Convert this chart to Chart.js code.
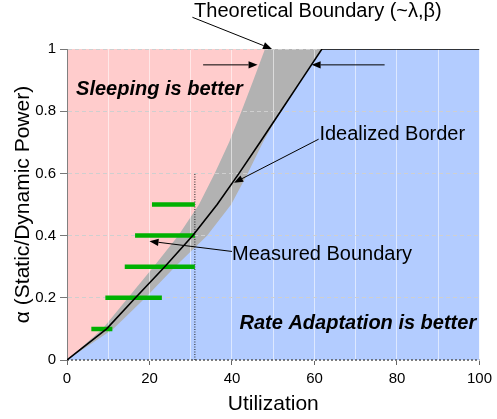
<!DOCTYPE html>
<html>
<head>
<meta charset="utf-8">
<script src="https://cdn.jsdelivr.net/npm/chart.js@4"></script>
<style>
  html, body { margin: 0; padding: 0; background: #fff; }
  #wrap { width: 497px; height: 419px; }
</style>
</head>
<body>
<div id="wrap"><canvas id="c" width="497" height="419"></canvas></div>
<script>
// alpha = static / dynamic power ratio, utilization in %
const alphaLevels  = [0, 0.1, 0.2, 0.3, 0.4, 0.5, 0.6, 0.7, 0.8, 0.9, 1.0];
const idealBorderU = [0, 9.6, 16.6, 23.7, 30.5, 36.4, 41.7, 46.8, 51.8, 56.8, 61.8];
const bandLeftU    = [0, 8.6, 14.8, 21.0, 27.0, 32.0, 35.8, 39.3, 42.3, 45.2, 48.0];
const bandRightU   = [0, 11.2, 19.0, 26.2, 34.0, 39.8, 43.8, 47.5, 51.8, 56.8, 61.8];
const utilMax      = 100;

// measured crossover ranges
const measuredAlpha = [0.1, 0.2, 0.3, 0.4, 0.5];
const measuredFromU = [5.9, 9.3, 14.0, 16.5, 20.6];
const measuredToU   = [11.0, 23.0, 31.0, 31.0, 31.0];

// operating-point marker
const cutoffU     = 31;
const cutoffAlpha = 0.6;

const xTickValues = [0, 20, 40, 60, 80, 100];
const xTickLabels = ['0', '20', '40', '60', '80', '100'];
const yTickValues = [0, 0.2, 0.4, 0.6, 0.8, 1];
const yTickLabels = ['0', '0.2', '0.4', '0.6', '0.8', '1'];

const FONT = "'Liberation Sans', Arial, Helvetica, sans-serif";

const toPts = (us, as) => us.map((u, i) => ({ x: u, y: as[i] }));
const findTick = (vals, v) => vals.findIndex(t => Math.abs(t - v) < 1e-6);

const datasets = [
  {
    label: 'Idealized Border',
    data: [...toPts(idealBorderU, alphaLevels), { x: utilMax, y: 1 }],
    borderColor: '#000', borderWidth: 1.6, pointRadius: 0, fill: false,
    tension: 0, order: 1
  },
  ...measuredAlpha.map((a, i) => ({
    label: 'Measured ' + a,
    data: [{ x: measuredFromU[i], y: a }, { x: measuredToU[i], y: a }],
    borderColor: '#00B000', borderWidth: 4.5, borderCapStyle: 'butt',
    pointRadius: 0, fill: false, order: 2
  })),
  {
    label: 'Cutoff',
    data: [{ x: cutoffU, y: 0 }, { x: cutoffU, y: cutoffAlpha }],
    borderColor: '#222', borderWidth: 1, borderDash: [1, 1.5],
    pointRadius: 0, fill: false, order: 2
  },
  {
    label: 'Axis',
    data: [{ x: 0, y: 0 }, { x: utilMax, y: 0 }],
    borderColor: '#555', borderWidth: 1.5, borderDash: [2, 2],
    pointRadius: 0, fill: false, order: 2, clip: 4
  },
  {
    label: 'Sleeping region',
    data: toPts(bandLeftU, alphaLevels),
    backgroundColor: '#FFCCCC', borderWidth: 0, pointRadius: 0,
    fill: 'end', tension: 0, order: 3
  },
  {
    label: 'Boundary band',
    data: toPts(bandRightU, alphaLevels),
    backgroundColor: '#B2B2B2', borderWidth: 0, pointRadius: 0,
    fill: 'end', tension: 0, order: 4
  },
  {
    label: 'Rate adaptation region',
    data: [{ x: 0, y: 1 }, { x: utilMax, y: 1 }],
    backgroundColor: '#B3CCFF', borderWidth: 0, pointRadius: 0,
    fill: 'start', order: 5
  }
];

// call-out texts and their pointer arrows, in data units
const callouts = {
  labels: [
    { text: 'Theoretical Boundary (~\u03bb,\u03b2)', x: 30.8, y: 1.121, font: '20px ' + FONT, align: 'left' },
    { text: 'Sleeping is better', x: 2.2, y: 0.871, font: 'italic bold 20px ' + FONT, align: 'left' },
    { text: 'Rate Adaptation is better', x: 99.2, y: 0.116, font: 'italic bold 20px ' + FONT, align: 'right' },
    { text: 'Idealized Border', x: 61.2, y: 0.726, font: '20px ' + FONT, align: 'left' },
    { text: 'Measured Boundary', x: 40.0, y: 0.339, font: '20px ' + FONT, align: 'left' }
  ],
  arrows: [
    { from: [30.4, 1.102], to: [49.7, 1.0] },
    { from: [33.0, 0.949], to: [46.2, 0.949] },
    { from: [77.0, 0.949], to: [59.3, 0.949] },
    { from: [61.0, 0.71], to: [40.5, 0.57] },
    { from: [40.0, 0.349], to: [20.0, 0.382] }
  ]
};

const calloutPlugin = {
  id: 'callouts',
  afterDatasetsDraw(chart) {
    const { ctx, scales: { x, y } } = chart;
    ctx.save();
    ctx.fillStyle = '#000';
    ctx.strokeStyle = '#000';
    ctx.lineWidth = 1;
    callouts.arrows.forEach(a => {
      const x1 = x.getPixelForValue(a.from[0]), y1 = y.getPixelForValue(a.from[1]);
      const x2 = x.getPixelForValue(a.to[0]),   y2 = y.getPixelForValue(a.to[1]);
      const ang = Math.atan2(y2 - y1, x2 - x1);
      const len = 9, half = 3.6;
      const bx = x2 - len * Math.cos(ang), by = y2 - len * Math.sin(ang);
      ctx.beginPath();
      ctx.moveTo(x1, y1);
      ctx.lineTo(bx, by);
      ctx.stroke();
      ctx.beginPath();
      ctx.moveTo(x2, y2);
      ctx.lineTo(bx + half * Math.sin(ang), by - half * Math.cos(ang));
      ctx.lineTo(bx - half * Math.sin(ang), by + half * Math.cos(ang));
      ctx.closePath();
      ctx.fill();
    });
    ctx.textBaseline = 'middle';
    callouts.labels.forEach(l => {
      ctx.font = l.font;
      ctx.textAlign = l.align;
      ctx.fillText(l.text, x.getPixelForValue(l.x), y.getPixelForValue(l.y));
    });
    ctx.restore();
  }
};

new Chart(document.getElementById('c'), {
  type: 'line',
  data: { datasets },
  plugins: [calloutPlugin],
  options: {
    responsive: false,
    animation: false,
    layout: { padding: { top: 49, right: 15, left: 0, bottom: 0 } },
    plugins: {
      legend: { display: false },
      tooltip: { enabled: false },
      filler: { drawTime: 'beforeDraw' }
    },
    scales: {
      x: {
        type: 'linear', min: 0, max: utilMax,
        afterFit: s => { s.height = 59; },
        afterBuildTicks: s => { s.ticks = [0,10,20,30,40,50,60,70,80,90,100].map(v => ({ value: v })); },
        ticks: {
          autoSkip: false, maxRotation: 0, padding: 5, color: '#000',
          font: { family: FONT, size: 15 },
          callback: v => { const i = findTick(xTickValues, v); return i >= 0 ? xTickLabels[i] : ''; }
        },
        grid: {
          color: c => (c.tick && c.tick.value > 0 && c.tick.value < utilMax) ? 'rgba(255,255,255,0.55)' : 'rgba(0,0,0,0)',
          tickColor: c => (c.tick && findTick(xTickValues, c.tick.value) >= 0) ? '#666' : 'rgba(0,0,0,0)',
          tickLength: 5
        },
        border: { display: true, color: 'rgba(0,0,0,0)' },
        title: {
          display: true, text: 'Utilization', color: '#000',
          font: { family: FONT, size: 21 }, padding: { top: 0, bottom: 2 }
        }
      },
      y: {
        min: 0, max: 1,
        afterFit: s => { s.width = 67; },
        afterBuildTicks: s => { s.ticks = yTickValues.map(v => ({ value: v })); },
        ticks: {
          padding: 4, color: '#000',
          font: { family: FONT, size: 15 },
          callback: v => { const i = findTick(yTickValues, v); return i >= 0 ? yTickLabels[i] : ''; }
        },
        grid: {
          color: c => (c.tick && c.tick.value > 0) ? '#cfcfcf' : 'rgba(0,0,0,0)',
          tickColor: '#777', tickLength: 7
        },
        border: { display: true, color: '#808080', width: 1, dash: [4, 3] },
        title: {
          display: true, text: '\u03b1 (Static/Dynamic Power)', color: '#000',
          font: { family: FONT, size: 21 }, padding: { top: 11, bottom: 0 }
        }
      }
    }
  }
});
</script>
</body>
</html>
